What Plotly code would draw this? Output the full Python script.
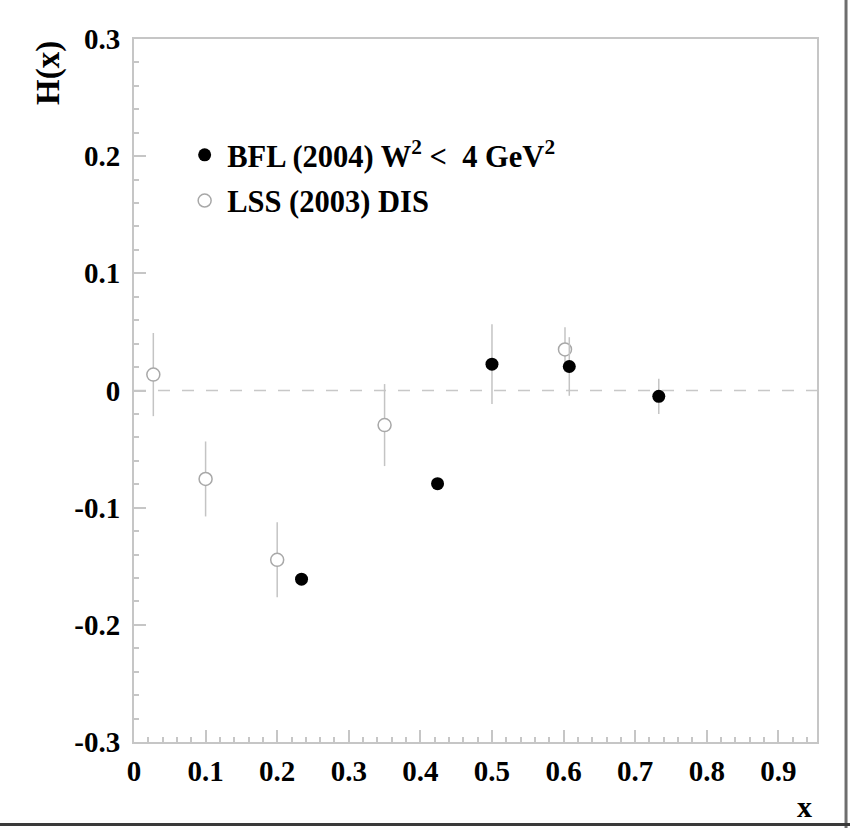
import plotly.graph_objects as go

# ---- data ----
bfl_x = [0.234, 0.424, 0.500, 0.608, 0.733]
bfl_y = [-0.161, -0.0795, 0.0225, 0.0205, -0.005]
bfl_err = [0.0, 0.0, 0.034, 0.025, 0.015]

lss_x = [0.027, 0.100, 0.200, 0.350, 0.602]
lss_y = [0.0136, -0.0755, -0.1445, -0.0295, 0.035]
lss_err = [0.0355, 0.032, 0.032, 0.035, 0.019]

x_ticks = [0, 0.1, 0.2, 0.3, 0.4, 0.5, 0.6, 0.7, 0.8, 0.9]
y_ticks = [-0.3, -0.2, -0.1, 0, 0.1, 0.2, 0.3]
y_ticklabels = ["-0.3", "-0.2", "-0.1", "0", "0.1", "0.2", "0.3"]
x_ticklabels = ["0", "0.1", "0.2", "0.3", "0.4", "0.5", "0.6", "0.7", "0.8", "0.9"]

x_range = [0, 0.954]
y_range = [-0.3, 0.3]
zero_level = 0

FONT = "Liberation Serif"
AXC = "#c6c6c6"
ERRC = "#c4c4c4"

fig = go.Figure()

fig.add_trace(go.Scatter(
    x=lss_x, y=lss_y, mode="markers", name="<b>LSS (2003) DIS</b>",
    error_y=dict(type="data", array=lss_err, color=ERRC, thickness=1.5, width=0),
    marker=dict(symbol="circle", size=13, color="white", line=dict(color="#a8a8a8", width=1.5)),
    legend="legend2",
))
fig.add_trace(go.Scatter(
    x=bfl_x, y=bfl_y, mode="markers",
    name="<b>BFL (2004) W<sup>2</sup> <  4 GeV<sup>2</sup></b>",
    error_y=dict(type="data", array=bfl_err, color=ERRC, thickness=1.5, width=0),
    marker=dict(symbol="circle", size=13, color="black", line=dict(color="black", width=0)),
    legend="legend",
))

fig.add_shape(type="line", xref="paper", yref="y", x0=0, x1=1, y0=zero_level, y1=zero_level,
              line=dict(color="#c8c8c8", width=1.5, dash="12px,12px"), layer="below")

# window border lines
fig.add_shape(type="line", xref="paper", yref="paper", x0=1.0425, x1=1.0425, y0=-0.125, y1=1.06,
              line=dict(color="#6e6e6e", width=3))
fig.add_shape(type="line", xref="paper", yref="paper", x0=-0.25, x1=1.05, y0=-0.1175, y1=-0.1175,
              line=dict(color="#3a3a3a", width=3))

tickfont = dict(family=FONT, size=29, color="black", weight="bold")

fig.update_xaxes(
    range=x_range, tickmode="array", tickvals=x_ticks, ticktext=x_ticklabels,
    showline=True, linecolor=AXC, linewidth=2, mirror=True,
    ticks="inside", ticklen=12, tickcolor=AXC, tickwidth=1.5,
    minor=dict(ticks="inside", ticklen=5, dtick=0.02, tick0=0, tickcolor=AXC, tickwidth=1.5),
    showgrid=False, zeroline=False, tickfont=tickfont, ticklabelstandoff=2,
)
fig.update_yaxes(
    range=y_range, tickmode="array", tickvals=y_ticks, ticktext=y_ticklabels,
    showline=True, linecolor=AXC, linewidth=2, mirror=True,
    ticks="inside", ticklen=12, tickcolor=AXC, tickwidth=1.5,
    minor=dict(ticks="inside", ticklen=5, dtick=0.02, tick0=0, tickcolor=AXC, tickwidth=1.5),
    showgrid=False, zeroline=False, tickfont=tickfont, ticklabelstandoff=6,
)

legfont = dict(family=FONT, size=30.5, color="black")
fig.update_layout(
    width=850, height=828,
    margin=dict(l=134, r=33, t=39, b=86),
    paper_bgcolor="white", plot_bgcolor="white",
    showlegend=True,
    legend=dict(x=0.0705, y=0.835, xanchor="left", yanchor="middle", font=legfont,
                bgcolor="rgba(0,0,0,0)", borderwidth=0, itemwidth=35),
    legend2=dict(x=0.0705, y=0.77, xanchor="left", yanchor="middle", font=legfont,
                 bgcolor="rgba(0,0,0,0)", borderwidth=0, itemwidth=35),
    annotations=[
        dict(text="<b>H(x)</b>", xref="paper", yref="paper", x=-0.126, y=1.0,
             xanchor="center", yanchor="top", textangle=-90, showarrow=False,
             font=dict(family=FONT, size=33, color="black")),
        dict(text="<b>x</b>", xref="paper", yref="paper", x=0.982, y=-0.092,
             xanchor="center", yanchor="middle", showarrow=False,
             font=dict(family=FONT, size=30, color="black")),
    ],
)

fig.write_html("out.html", config={"displayModeBar": False},
               post_script="document.body.style.margin='0';document.body.style.overflow='hidden';")
